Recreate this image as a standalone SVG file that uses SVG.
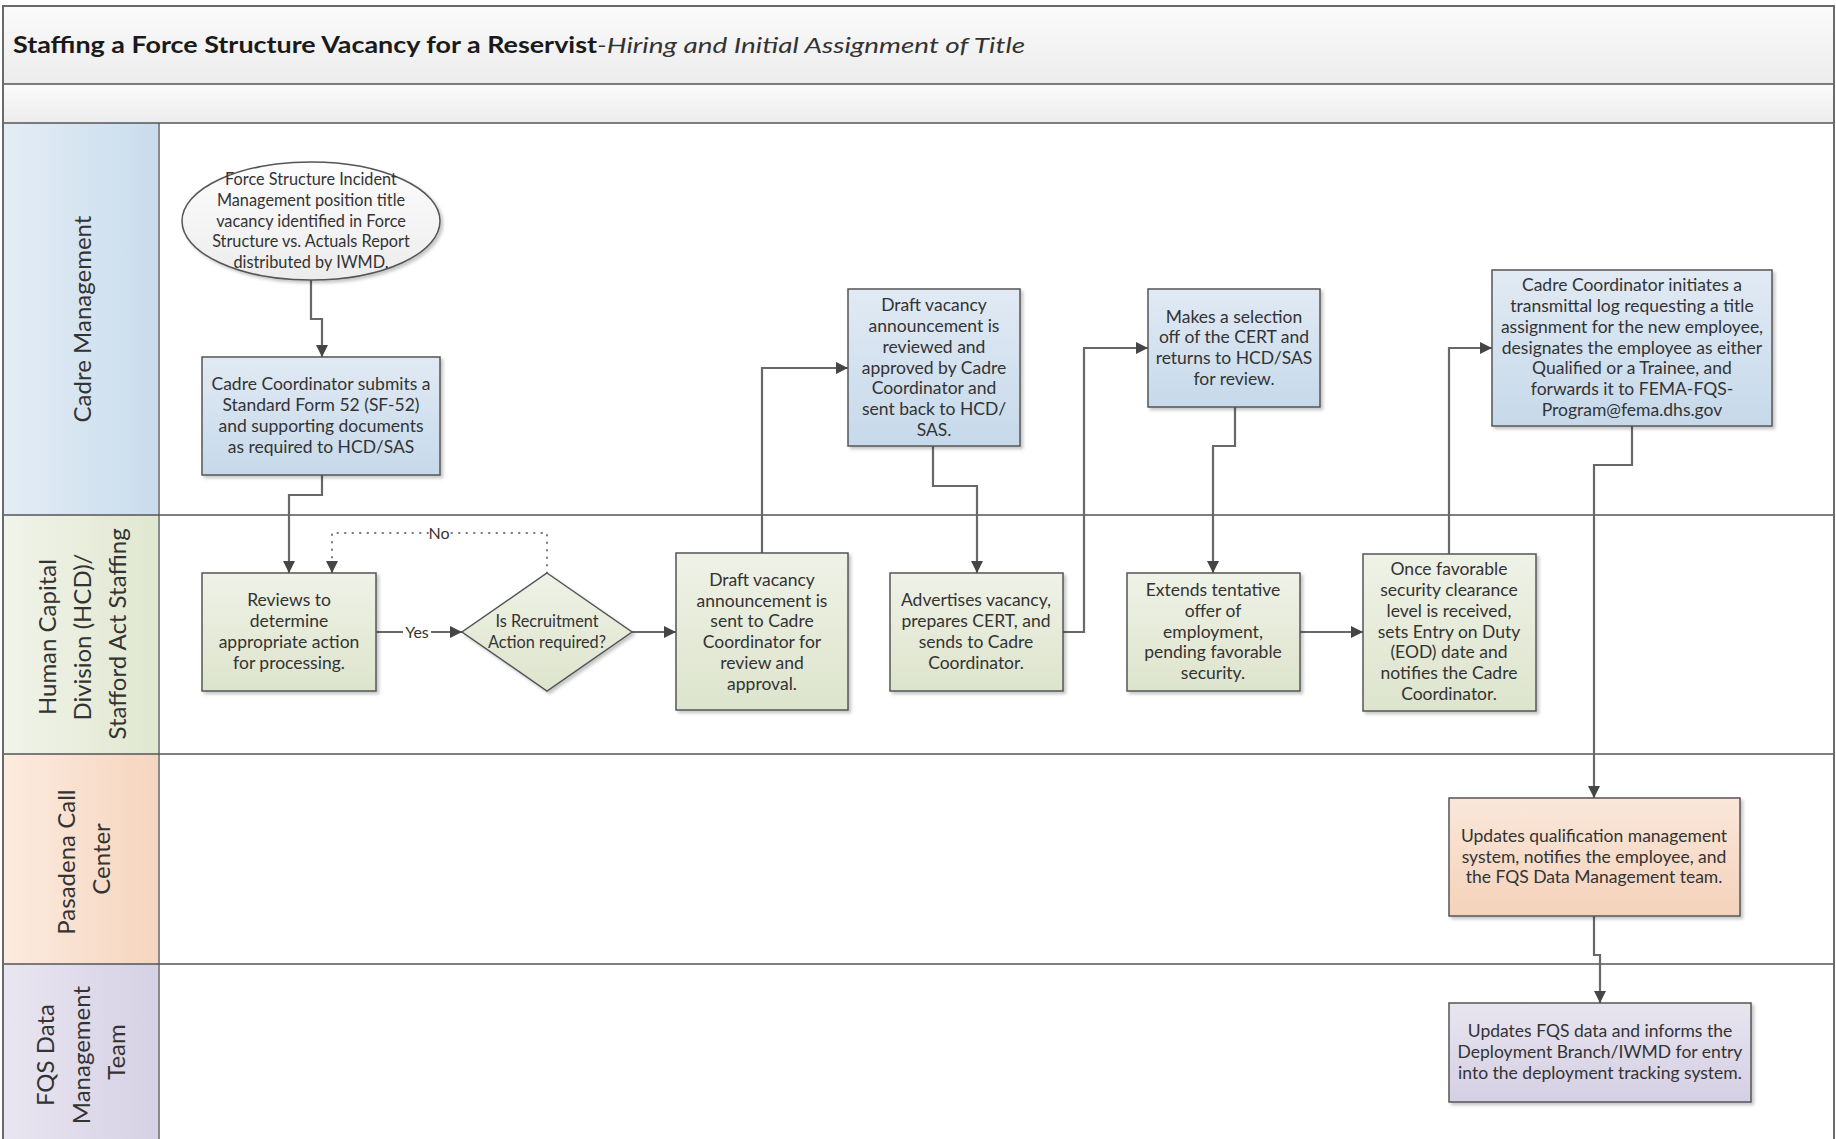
<svg xmlns="http://www.w3.org/2000/svg" width="1836" height="1139" viewBox="0 0 1836 1139">
  <defs>
    <linearGradient id="gBand" x1="0" y1="0" x2="0" y2="1">
      <stop offset="0" stop-color="#fbfbfb"/>
      <stop offset="1" stop-color="#ececec"/>
    </linearGradient>
    <linearGradient id="hBlue" x1="0" y1="0" x2="1" y2="0">
      <stop offset="0" stop-color="#e4edf6"/>
      <stop offset="1" stop-color="#c9dcec"/>
    </linearGradient>
    <linearGradient id="hGreen" x1="0" y1="0" x2="1" y2="0">
      <stop offset="0" stop-color="#f1f4ea"/>
      <stop offset="1" stop-color="#e0e7d0"/>
    </linearGradient>
    <linearGradient id="hOrange" x1="0" y1="0" x2="1" y2="0">
      <stop offset="0" stop-color="#fcebdf"/>
      <stop offset="1" stop-color="#f5d5bf"/>
    </linearGradient>
    <linearGradient id="hPurple" x1="0" y1="0" x2="1" y2="0">
      <stop offset="0" stop-color="#e9e6f1"/>
      <stop offset="1" stop-color="#d6d0e4"/>
    </linearGradient>
    <linearGradient id="fBlue" x1="0" y1="0" x2="0" y2="1">
      <stop offset="0" stop-color="#e1eaf4"/>
      <stop offset="1" stop-color="#c6d9ea"/>
    </linearGradient>
    <linearGradient id="fGreen" x1="0" y1="0" x2="0" y2="1">
      <stop offset="0" stop-color="#eff2e7"/>
      <stop offset="1" stop-color="#dde4cc"/>
    </linearGradient>
    <linearGradient id="fOrange" x1="0" y1="0" x2="0" y2="1">
      <stop offset="0" stop-color="#fae7da"/>
      <stop offset="1" stop-color="#f4d2ba"/>
    </linearGradient>
    <linearGradient id="fPurple" x1="0" y1="0" x2="0" y2="1">
      <stop offset="0" stop-color="#e8e5f0"/>
      <stop offset="1" stop-color="#d5cfe3"/>
    </linearGradient>
    <linearGradient id="fGrey" x1="0" y1="0" x2="0" y2="1">
      <stop offset="0" stop-color="#fdfdfd"/>
      <stop offset="1" stop-color="#ececec"/>
    </linearGradient>
    <filter id="sh" x="-10%" y="-10%" width="130%" height="130%">
      <feDropShadow dx="2.5" dy="2.5" stdDeviation="1.5" flood-color="#000" flood-opacity="0.22"/>
    </filter>
    <marker id="ah" viewBox="0 0 12 12" refX="12" refY="6" markerWidth="12" markerHeight="12" markerUnits="userSpaceOnUse" orient="auto">
      <path d="M0,0 L12,6 L0,12 z" fill="#454545"/>
    </marker>
  </defs>
  <style>
    .frame{fill:none;stroke:#6a6a6a;stroke-width:2}
    .div{stroke:#555;stroke-width:1.5;fill:none}
    .hdr{stroke:#8a8a8a;stroke-width:2}
    .box{stroke:#555;stroke-width:1.5;filter:url(#sh)}
    .t{font-family:Lato,"Liberation Sans",sans-serif;font-size:17.5px;fill:#333;text-anchor:middle;dominant-baseline:central;transform:translateY(-1.5px)}
    .t.sm{font-size:16.3px}
    .lane{font-family:Lato,"Liberation Sans",sans-serif;font-size:24px;fill:#333;text-anchor:middle;dominant-baseline:central}
    .conn{fill:none;stroke:#686868;stroke-width:2.2}
    .dot{fill:none;stroke:#777;stroke-width:2;stroke-dasharray:0.5 7;stroke-linecap:round}
    .lbl{font-family:Lato,"Liberation Sans",sans-serif;font-size:16px;fill:#333;text-anchor:middle;dominant-baseline:central}
  </style>

  <rect width="1836" height="1139" fill="#fff"/>

  <!-- title bands -->
  <g id="title">
    <rect x="3" y="6" width="1831" height="78" fill="url(#gBand)"/>
    <rect x="3" y="84" width="1831" height="39" fill="url(#gBand)"/>
    <text x="13" y="44" font-family="Lato,'Liberation Sans',sans-serif" font-size="22" font-weight="bold" fill="#1a1a1a" dominant-baseline="central" textLength="584" lengthAdjust="spacingAndGlyphs">Staffing a Force Structure Vacancy for a Reservist</text>
    <text x="597" y="44" font-family="Lato,'Liberation Sans',sans-serif" font-size="22" font-style="italic" fill="#333" dominant-baseline="central" textLength="428" lengthAdjust="spacingAndGlyphs">-Hiring and Initial Assignment of Title</text>
  </g>

  <!-- swimlane headers -->
  <g id="lanes">
    <rect x="3" y="123" width="156" height="392" fill="url(#hBlue)"/>
    <rect x="3" y="515" width="156" height="239" fill="url(#hGreen)"/>
    <rect x="3" y="754" width="156" height="210" fill="url(#hOrange)"/>
    <rect x="3" y="964" width="156" height="175" fill="url(#hPurple)"/>
    <line class="hdr" x1="159" y1="123" x2="159" y2="1139"/>
    <line class="div" x1="3" y1="84" x2="1834" y2="84"/>
    <line class="div" x1="3" y1="123" x2="1834" y2="123"/>
    <line class="div" x1="3" y1="515" x2="1834" y2="515"/>
    <line class="div" x1="3" y1="754" x2="1834" y2="754"/>
    <line class="div" x1="3" y1="964" x2="1834" y2="964"/>
    <path class="frame" d="M3,1139 V6 H1834 V1139"/>
    <text class="lane" transform="translate(81,319) rotate(-90)">Cadre Management</text>
    <text class="lane" transform="translate(81,634) rotate(-90)">
      <tspan x="0" y="-35">Human Capital</tspan>
      <tspan x="0" y="0">Division (HCD)/</tspan>
      <tspan x="0" y="35">Stafford Act Staffing</tspan>
    </text>
    <text class="lane" transform="translate(82,859) rotate(-90)">
      <tspan x="0" y="-17.5">Pasadena Call</tspan>
      <tspan x="0" y="17.5">Center</tspan>
    </text>
    <text class="lane" transform="translate(80,1052) rotate(-90)">
      <tspan x="0" y="-36">FQS Data</tspan>
      <tspan x="0" y="0">Management</tspan>
      <tspan x="0" y="35">Team</tspan>
    </text>
  </g>

  <!-- connectors -->
  <g id="connectors">
    <path class="conn" d="M311,280 V319 H322 V357" marker-end="url(#ah)"/>
    <path class="conn" d="M322,475 V495 H289 V573" marker-end="url(#ah)"/>
    <path class="conn" d="M376,632 H403 M431,632 H462" marker-end="url(#ah)"/>
    <path class="conn" d="M632,632 H676" marker-end="url(#ah)"/>
    <path class="dot" d="M547,573 V533 H450 M428,533 H332 V560"/>
    <path class="conn" d="M332,568 V573" stroke="none" marker-end="url(#ah)"/>
    <path class="conn" d="M762,553 V368 H848" marker-end="url(#ah)"/>
    <path class="conn" d="M933,446 V486 H977 V573" marker-end="url(#ah)"/>
    <path class="conn" d="M1063,632 H1084 V348 H1148" marker-end="url(#ah)"/>
    <path class="conn" d="M1235,407 V446 H1213 V573" marker-end="url(#ah)"/>
    <path class="conn" d="M1300,632 H1363" marker-end="url(#ah)"/>
    <path class="conn" d="M1449,554 V348 H1492" marker-end="url(#ah)"/>
    <path class="conn" d="M1632,426 V465 H1594 V798" marker-end="url(#ah)"/>
    <path class="conn" d="M1594,916 V955 H1600 V1003" marker-end="url(#ah)"/>
    <text class="lbl" x="417" y="631">Yes</text>
    <text class="lbl" x="439" y="532">No</text>
  </g>

  <!-- process nodes -->
  <g id="n-start">
    <ellipse class="box" cx="311" cy="221" rx="129" ry="59" fill="url(#fGrey)"/>
    <text class="t sm"><tspan x="311" y="179">Force Structure Incident</tspan><tspan x="311" y="200">Management position title</tspan><tspan x="311" y="221">vacancy identified in Force</tspan><tspan x="311" y="241">Structure vs. Actuals Report</tspan><tspan x="311" y="262">distributed by IWMD.</tspan></text>
  </g>

  <g id="n-submit">
    <rect class="box" x="202" y="357" width="238" height="118" fill="url(#fBlue)"/>
    <text class="t"><tspan x="321" y="384">Cadre Coordinator submits a</tspan><tspan x="321" y="405">Standard Form 52 (SF-52)</tspan><tspan x="321" y="426">and supporting documents</tspan><tspan x="321" y="447">as required to HCD/SAS</tspan></text>
  </g>

  <g id="n-review">
    <rect class="box" x="202" y="573" width="174" height="118" fill="url(#fGreen)"/>
    <text class="t"><tspan x="289" y="600">Reviews to</tspan><tspan x="289" y="621">determine</tspan><tspan x="289" y="642">appropriate action</tspan><tspan x="289" y="663">for processing.</tspan></text>
  </g>

  <g id="n-decision">
    <polygon class="box" points="547,573 632,632 547,691 462,632" fill="url(#fGreen)"/>
    <text class="t sm"><tspan x="547" y="621">Is Recruitment</tspan><tspan x="547" y="642">Action required?</tspan></text>
  </g>

  <g id="n-draft">
    <rect class="box" x="676" y="553" width="172" height="157" fill="url(#fGreen)"/>
    <text class="t"><tspan x="762" y="580">Draft vacancy</tspan><tspan x="762" y="601">announcement is</tspan><tspan x="762" y="621">sent to Cadre</tspan><tspan x="762" y="642">Coordinator for</tspan><tspan x="762" y="663">review and</tspan><tspan x="762" y="684">approval.</tspan></text>
  </g>

  <g id="n-approve">
    <rect class="box" x="848" y="289" width="172" height="157" fill="url(#fBlue)"/>
    <text class="t"><tspan x="934" y="305">Draft vacancy</tspan><tspan x="934" y="326">announcement is</tspan><tspan x="934" y="347">reviewed and</tspan><tspan x="934" y="368">approved by Cadre</tspan><tspan x="934" y="388">Coordinator and</tspan><tspan x="934" y="409">sent back to HCD/</tspan><tspan x="934" y="430">SAS.</tspan></text>
  </g>

  <g id="n-advertise">
    <rect class="box" x="890" y="573" width="173" height="118" fill="url(#fGreen)"/>
    <text class="t"><tspan x="976" y="600">Advertises vacancy,</tspan><tspan x="976" y="621">prepares CERT, and</tspan><tspan x="976" y="642">sends to Cadre</tspan><tspan x="976" y="663">Coordinator.</tspan></text>
  </g>

  <g id="n-select">
    <rect class="box" x="1148" y="289" width="172" height="118" fill="url(#fBlue)"/>
    <text class="t"><tspan x="1234" y="317">Makes a selection</tspan><tspan x="1234" y="337">off of the CERT and</tspan><tspan x="1234" y="358">returns to HCD/SAS</tspan><tspan x="1234" y="379">for review.</tspan></text>
  </g>

  <g id="n-offer">
    <rect class="box" x="1127" y="573" width="173" height="118" fill="url(#fGreen)"/>
    <text class="t"><tspan x="1213" y="590">Extends tentative</tspan><tspan x="1213" y="611">offer of</tspan><tspan x="1213" y="632">employment,</tspan><tspan x="1213" y="652">pending favorable</tspan><tspan x="1213" y="673">security.</tspan></text>
  </g>

  <g id="n-eod">
    <rect class="box" x="1363" y="554" width="173" height="157" fill="url(#fGreen)"/>
    <text class="t"><tspan x="1449" y="569">Once favorable</tspan><tspan x="1449" y="590">security clearance</tspan><tspan x="1449" y="611">level is received,</tspan><tspan x="1449" y="632">sets Entry on Duty</tspan><tspan x="1449" y="652">(EOD) date and</tspan><tspan x="1449" y="673">notifies the Cadre</tspan><tspan x="1449" y="694">Coordinator.</tspan></text>
  </g>

  <g id="n-transmittal">
    <rect class="box" x="1492" y="270" width="280" height="156" fill="url(#fBlue)"/>
    <text class="t"><tspan x="1632" y="285">Cadre Coordinator initiates a</tspan><tspan x="1632" y="306">transmittal log requesting a title</tspan><tspan x="1632" y="327">assignment for the new employee,</tspan><tspan x="1632" y="348">designates the employee as either</tspan><tspan x="1632" y="368">Qualified or a Trainee, and</tspan><tspan x="1632" y="389">forwards it to FEMA-FQS-</tspan><tspan x="1632" y="410">Program@fema.dhs.gov</tspan></text>
  </g>

  <g id="n-qualification">
    <rect class="box" x="1449" y="798" width="291" height="118" fill="url(#fOrange)"/>
    <text class="t"><tspan x="1594" y="836">Updates qualification management</tspan><tspan x="1594" y="857">system, notifies the employee, and</tspan><tspan x="1594" y="877">the FQS Data Management team.</tspan></text>
  </g>

  <g id="n-fqs">
    <rect class="box" x="1449" y="1003" width="302" height="99" fill="url(#fPurple)"/>
    <text class="t"><tspan x="1600" y="1031">Updates FQS data and informs the</tspan><tspan x="1600" y="1052">Deployment Branch/IWMD for entry</tspan><tspan x="1600" y="1073">into the deployment tracking system.</tspan></text>
  </g>
</svg>
